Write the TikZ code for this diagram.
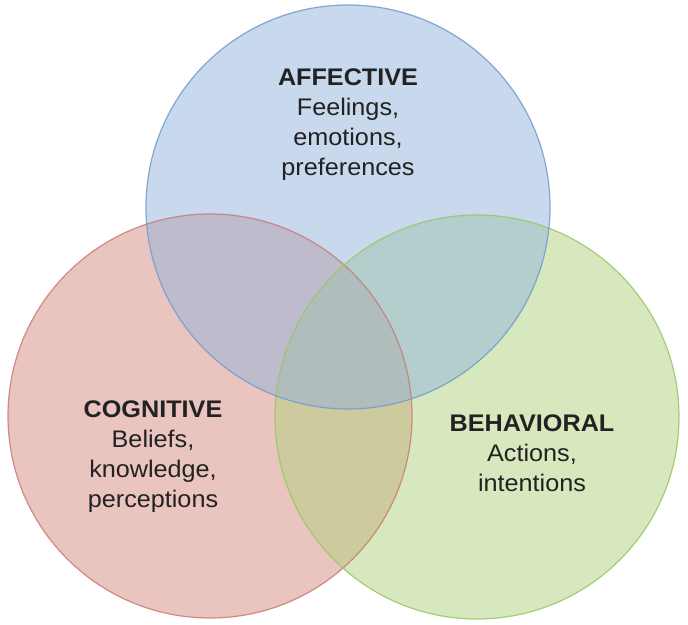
\documentclass[tikz,border=0pt]{standalone}
\usepackage{fontspec}
\setmainfont[FakeStretch=1.05]{Liberation Sans}
\definecolor{redbase}{RGB}{215,139,127}
\definecolor{greenbase}{RGB}{177,211,127}
\definecolor{bluebase}{RGB}{147,179,221}
\definecolor{redline}{RGB}{200,125,115}
\definecolor{greenline}{RGB}{150,200,100}
\definecolor{blueline}{RGB}{115,155,205}
\definecolor{txt}{RGB}{34,34,34}
\tikzset{
  setfill/.style={fill=#1, fill opacity=0.5},
  setline/.style={draw=#1, line width=1.2bp, draw opacity=0.85},
  ttl/.style={anchor=base, inner sep=0pt, text=txt, font=\fontsize{24bp}{30bp}\selectfont\bfseries},
  body/.style={anchor=base, inner sep=0pt, text=txt, font=\fontsize{24bp}{30bp}\selectfont},
}
\begin{document}
\begin{tikzpicture}[x=1bp,y=-1bp]
\useasboundingbox[fill=white] (0,0) rectangle (688,625);
\coordinate (cr) at (210,416);
\coordinate (cg) at (477,417);
\coordinate (cb) at (348,207);
\fill[setfill=redbase] (cr) circle[radius=202];
\fill[setfill=greenbase] (cg) circle[radius=202];
\fill[setfill=bluebase] (cb) circle[radius=202];
\draw[setline=redline] (cr) circle[radius=202];
\draw[setline=greenline] (cg) circle[radius=202];
\draw[setline=blueline] (cb) circle[radius=202];
\node[ttl] (a0) at (348,86) {AFFECTIVE};
\node[body] (a1) at (348,116) {Feelings,};
\node[body] (a2) at (348,146) {emotions,};
\node[body] (a3) at (348,176) {preferences};
\node[ttl] (c0) at (153,417) {COGNITIVE};
\node[body] (c1) at (153,447) {Beliefs,};
\node[body] (c2) at (153,477) {knowledge,};
\node[body] (c3) at (153,507) {perceptions};
\node[ttl] (b0) at (532,431) {BEHAVIORAL};
\node[body] (b1) at (532,461) {Actions,};
\node[body] (b2) at (532,491) {intentions};
\end{tikzpicture}
\end{document}
